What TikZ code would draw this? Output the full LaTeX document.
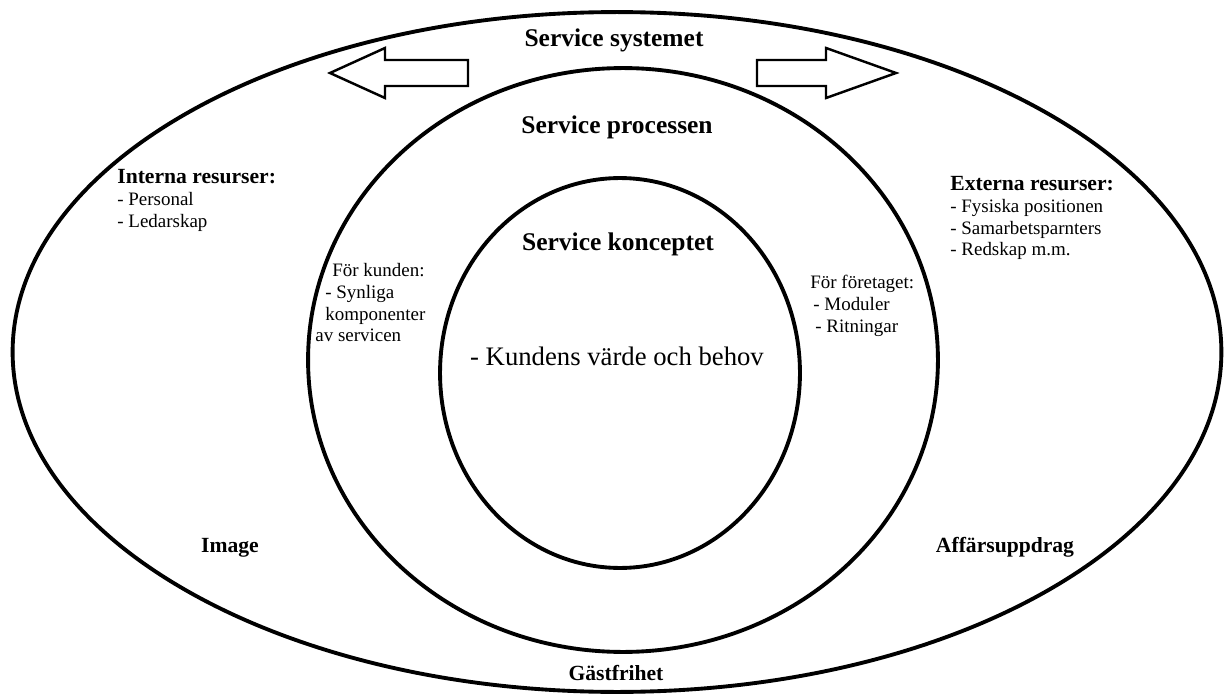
\documentclass[tikz,border=0pt]{standalone}
\usepackage{fontspec}
\setmainfont{Liberation Serif}
\usetikzlibrary{shapes.geometric}

\begin{document}
\begin{tikzpicture}[x=0.02cm,y=-0.02cm,
  ring/.style={draw,ellipse,line width=2.2pt,inner sep=0pt},
  title/.style={font=\fontsize{14.5}{17}\selectfont\bfseries},
  sub/.style={font=\fontsize{12.3}{14}\selectfont\bfseries},
  list/.style={font=\fontsize{10.8}{12.4}\selectfont,align=left,inner sep=0pt,anchor=north west},
  flow/.style={draw,line width=1.4pt,line join=miter}]
\useasboundingbox (0,0) rectangle (1224,696);
% three rings
\node[ring,minimum width=24.18cm,minimum height=13.6cm] (system) at (617,352) {};
\node[ring,minimum width=12.6cm,minimum height=11.68cm] (process) at (623,360) {};
\node[ring,minimum width=7.2cm,minimum height=7.8cm] (concept) at (620,373) {};
% block arrows
\draw[flow] (468,60) -- (385,60) -- (385,48) -- (330,73) -- (385,98) -- (385,86) -- (468,86) -- cycle;
\draw[flow] (757,60) -- (826,60) -- (826,48) -- (896,73) -- (826,98) -- (826,86) -- (757,86) -- cycle;
% titles
\node[title] (systemet) at (614,40) {Service systemet};
\node[title] (processen) at (617,127) {Service processen};
\node[title] (konceptet) at (618,244) {Service konceptet};
\node[font=\fontsize{15.2}{18}\selectfont] (behov) at (617,356) {- Kundens värde och behov};
% resources
\node[list] (interna) at (117,169) {{\bfseries\fontsize{12.3}{14}\selectfont Interna resurser:}\\- Personal\\- Ledarskap};
\node[list] (externa) at (950,176) {{\bfseries\fontsize{12.3}{14}\selectfont Externa resurser:}\\- Fysiska positionen\\- Samarbetsparnters\\- Redskap m.m.};
\node[list] (kunden) at (315,263) {\hspace*{0.34cm}För kunden:\\\hspace*{0.2cm}- Synliga\\\hspace*{0.2cm}komponenter\\av servicen};
\node[list] (foretaget) at (810,275) {För företaget:\\\hspace*{0.06cm}- Moduler\\\hspace*{0.1cm}- Ritningar};
% lower labels
\node[sub] (image) at (230,548) {Image};
\node[sub] (uppdrag) at (1005,547) {Affärsuppdrag};
\node[sub] (gastfrihet) at (616,673) {Gästfrihet};
\end{tikzpicture}
\end{document}
